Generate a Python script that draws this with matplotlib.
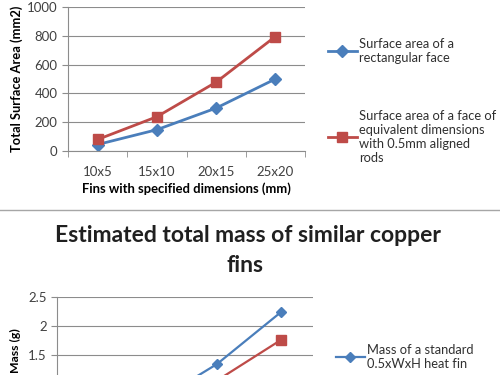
import numpy as np
import matplotlib.pyplot as plt
import matplotlib as mpl

mpl.rc("font", family=["Lato", "DejaVu Sans"])

# data
fins = ["10x5", "15x10", "20x15", "25x20"]
area_flat = [45, 148, 298, 500]
area_rods = [80, 238, 478, 795]
mass_std = [0.224, 0.672, 1.344, 2.24]
mass_rods = [0.18, 0.53, 1.06, 1.76]
mass_ticks = [0, 0.5, 1, 1.5, 2, 2.5]
mass_ticklabels = ["", "", "", "1.5", "2", "2.5"]  # lower ones fall outside the screenshot

BLUE = "#4a7ebb"
RED = "#be4b48"
GRID = "#8c8c8c"
W, H = 500, 375


def px_axes(fig, left, right, top, bottom):
    return fig.add_axes([left / W, 1 - bottom / H, (right - left) / W, (bottom - top) / H])


def style(ax, ymax, ystep):
    x = np.arange(len(fins))
    ax.set_xlim(-0.5, len(fins) - 0.5)
    ax.set_ylim(0, ymax)
    ax.set_yticks(np.arange(0, ymax + ystep / 2, ystep))
    ax.yaxis.grid(True, color=GRID, lw=0.8)
    ax.set_axisbelow(True)
    for s in ["top", "right"]:
        ax.spines[s].set_visible(False)
    for s in ["left", "bottom"]:
        ax.spines[s].set_color(GRID)
        ax.spines[s].set_linewidth(0.8)
    ax.set_xticks(x)
    ax.set_xticklabels(fins)
    ax.set_xticks(np.arange(-0.5, len(fins)), minor=True)
    ax.tick_params(axis="x", which="major", length=0, pad=11, labelsize=9.5, labelcolor="#404040")
    ax.tick_params(axis="x", which="minor", length=4, color=GRID)
    ax.tick_params(axis="y", length=4, color=GRID, labelsize=9.5, labelcolor="#404040")
    return x


fig = plt.figure(figsize=(5, 3.75), dpi=100)

# top chart
ax1 = px_axes(fig, 68, 305, 7, 151)
x = style(ax1, 1000, 200)
ax1.plot(x, area_flat, color=BLUE, lw=2, marker="D", ms=6,
         label="Surface area of a\nrectangular face")
ax1.plot(x, area_rods, color=RED, lw=2, marker="s", ms=7.5,
         label="Surface area of a face of\nequivalent dimensions\nwith 0.5mm aligned\nrods")
ax1.set_ylabel("Total Surface Area (mm2)", fontsize=9.3, fontweight="bold", labelpad=3)
ax1.set_xlabel("Fins with specified dimensions (mm)", fontsize=9.4, fontweight="bold", labelpad=3)
h, l = ax1.get_legend_handles_labels()
leg_kw = dict(loc="upper left", frameon=False, fontsize=9.3, handlelength=2.3,
              handletextpad=0.1, labelcolor="#303030", labelspacing=0.3)
fig.legend(h[:1], l[:1], bbox_to_anchor=(316 / W, 1 - 26 / H), **leg_kw)
fig.legend(h[1:], l[1:], bbox_to_anchor=(316 / W, 1 - 98 / H), **leg_kw)

# separator between the two charts
fig.add_artist(plt.Line2D([0, 1], [1 - 210 / H, 1 - 210 / H], color="#a6a6a6", lw=1))

# bottom chart (cut off by the screenshot)
ax2 = px_axes(fig, 57, 313, 297, 442)
x = style(ax2, 2.5, 0.5)
ax2.set_yticks(mass_ticks)
ax2.set_yticklabels(mass_ticklabels)
ax2.tick_params(axis="x", which="major", labelbottom=False)
ax2.plot(x, mass_std, color=BLUE, lw=1.6, marker="D", ms=5,
         label="Mass of a standard\n0.5xWxH heat fin")
ax2.plot(x, mass_rods, color=RED, lw=1.6, marker="s", ms=6.5)
fig.text(248 / W, 1 - 236 / H, "Estimated total mass of similar copper",
         ha="center", va="center", fontsize=16.5, fontweight="bold", color="#202020")
fig.text(245 / W, 1 - 265 / H, "fins",
         ha="center", va="center", fontsize=16.5, fontweight="bold", color="#202020")
fig.text(15 / W, 1 - 328 / H, "Mass (g)", rotation=90, ha="center", va="top",
         fontsize=8.8, fontweight="bold")
h, l = ax2.get_legend_handles_labels()
fig.legend(h[:1], l[:1], bbox_to_anchor=(324 / W, 1 - 332 / H), **leg_kw)

fig.savefig("out.png", dpi=100)
